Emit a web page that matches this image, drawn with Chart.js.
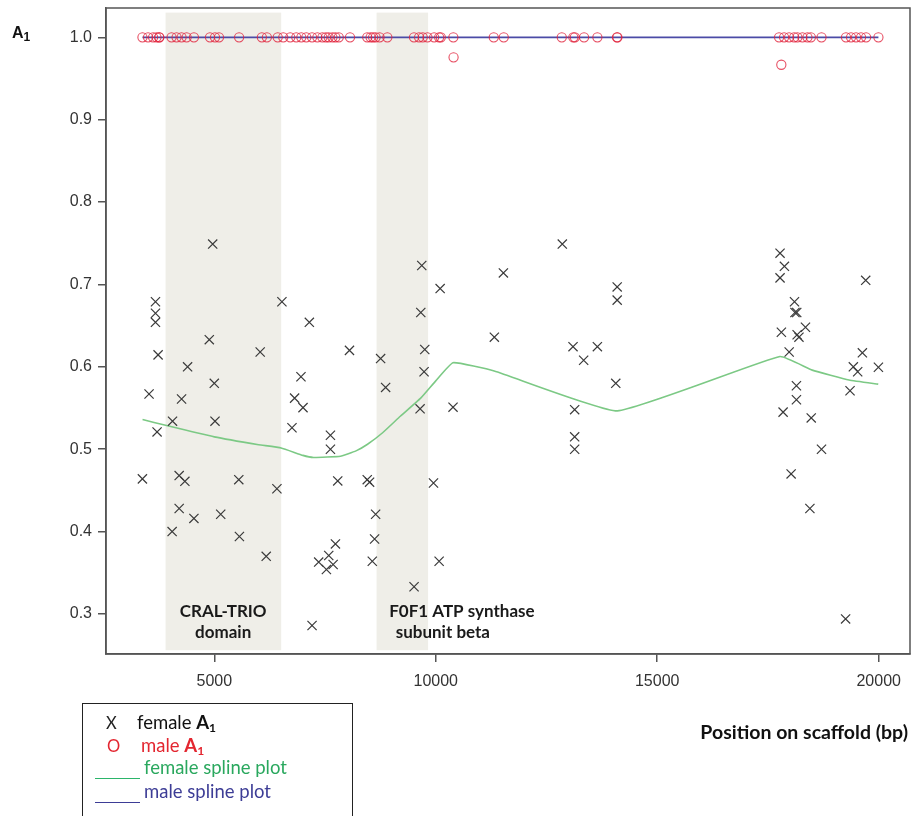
<!DOCTYPE html>
<html>
<head>
<meta charset="utf-8">
<script src="https://cdn.jsdelivr.net/npm/chart.js@4.4.1/dist/chart.umd.min.js"></script>
<style>
  html, body { margin: 0; padding: 0; background: #fff; }
  #wrap { position: relative; width: 912px; height: 816px; overflow: hidden; }
  canvas { position: absolute; left: 0; top: 0; }
  .ylab { position: absolute; left: 12px; top: 24px; font: bold 16px "Liberation Sans", Arial, sans-serif; color: #111; }
  .ylab sub, .lg sub { font-size: 12px; vertical-align: -3px; }
  .xtitle { position: absolute; right: 4px; top: 720px; font: bold 19.5px Lato, "Open Sans", sans-serif; color: #111; white-space: nowrap; }
  .legend { position: absolute; left: 82px; top: 703px; width: 271px; height: 130px; border: 1px solid #222; box-sizing: border-box; }
  .lg { position: absolute; font: 18.5px Lato, "Open Sans", sans-serif; white-space: nowrap; line-height: 20px; }
  .ln { position: absolute; height: 0; width: 45px; border-top: 1.5px solid; }
</style>
</head>
<body>
<div id="wrap">
  <canvas id="c" width="912" height="816"></canvas>
  <div class="ylab">A<sub>1</sub></div>
  <div class="xtitle">Position on scaffold (bp)</div>
  <div class="legend">
    <div class="lg" style="left:23px;top:9px;color:#222;font-size:16.5px;">X</div>
    <div class="lg" style="left:54px;top:8px;color:#111;">female <b>A<sub>1</sub></b></div>
    <div class="lg" style="left:24px;top:32px;color:#e32630;font-size:16.5px;">O</div>
    <div class="lg" style="left:58px;top:31px;color:#e32630;">male <b>A<sub>1</sub></b></div>
    <div class="ln" style="left:12px;top:74px;border-color:#2bb56a;"></div>
    <div class="lg" style="left:61px;top:53px;color:#2aa85e;">female spline plot</div>
    <div class="ln" style="left:12px;top:98px;border-color:#3d3d96;"></div>
    <div class="lg" style="left:61px;top:77px;color:#3d3d96;">male spline plot</div>
  </div>
</div>
<script>
// ---- data ----
const xTicks = [5000, 10000, 15000, 20000];
const yTicks = [0.3, 0.4, 0.5, 0.6, 0.7, 0.8, 0.9, 1.0];

const femaleX = [3377,3527,3672,3672,3672,3708,3731,4048,4057,4207,4207,4261,4336,4397,4540,4887,4964,5000,5016,5145,5553,5567,6036,6172,6414,6527,
  6754,6813,6957,7003,7146,7207,7357,7531,7584,7622,7622,7683,7735,7787,8052,
  8453,8506,8567,8619,8642,8755,8868,9510,9646,9662,9684,9736,9752,9949,10076,10099,10390,
  11323,11527,12857,13099,13136,13136,13136,13339,13649,14064,14096,14096,
  17773,17872,17773,17803,17842,17979,18023,18099,18110,18150,18143,18143,18159,18200,18347,18447,18477,18709,19253,19353,19428,19526,19632,19707,19994];
const femaleY = [0.464,0.567,0.679,0.665,0.654,0.521,0.6145,0.400,0.534,0.468,0.428,0.561,0.461,0.600,0.416,0.633,0.749,0.580,0.534,0.421,0.463,0.394,0.618,0.370,0.452,0.679,
  0.526,0.562,0.588,0.5505,0.654,0.286,0.363,0.354,0.371,0.517,0.500,0.360,0.385,0.4615,0.620,
  0.463,0.460,0.364,0.391,0.421,0.610,0.575,0.333,0.549,0.666,0.723,0.594,0.621,0.459,0.364,0.695,0.551,
  0.636,0.714,0.749,0.6245,0.548,0.515,0.500,0.608,0.6245,0.580,0.697,0.681,
  0.738,0.722,0.708,0.642,0.545,0.618,0.470,0.679,0.666,0.666,0.577,0.560,0.639,0.636,0.648,0.428,0.538,0.500,0.294,0.571,0.600,0.594,0.617,0.705,0.5995];

const maleX = [3378,3504,3618,3695,3754,3760,4035,4148,4261,4375,4540,4903,5016,5106,5560,6074,6187,6432,6557,6715,6851,6965,7078,7207,7327,7440,7520,7583,7667,7735,7810,
  8064,8453,8528,8585,8642,8732,8907,9509,9623,9706,9813,9963,10076,10114,10397,10402,11309,11535,
  12845,13106,13140,13348,13649,14091,14102,
  17751,17802,17864,17977,18091,18165,18279,18392,18469,18709,19262,19376,19489,19602,19716,19994];
const maleY = [1,1,1,1,1,1,1,1,1,1,1,1,1,1,1,1,1,1,1,1,1,1,1,1,1,1,1,1,1,1,1,
  1,1,1,1,1,1,1,1,1,1,1,1,1,1,1,0.9757,1,1,
  1,1,1,1,1,1,1,
  1,0.9667,1,1,1,1,1,1,1,1,1,1,1,1,1,1];

const femaleSplineX = [3380,3900,5000,6000,6510,7000,7240,7850,8200,8460,8800,9200,9660,10000,10390,11320,14100,17770,18500,19330,19990];
const femaleSplineY = [0.536,0.529,0.515,0.5055,0.5015,0.4925,0.490,0.4915,0.498,0.506,0.520,0.540,0.562,0.583,0.605,0.595,0.5465,0.6125,0.596,0.584,0.579];

const maleSplineX = [3378, 19994];
const maleSplineY = [1.0, 1.0];

const regionStart = [3900, 8664];
const regionEnd = [6510, 9827];
const regionLabels = [["CRAL-TRIO", "domain"], ["F0F1 ATP synthase", "subunit beta"]];
const regionLabelX = [[5200, 5200], [10590, 10160]];
const regionLabelY = [0.3029, 0.277];

const pts = (xs, ys) => xs.map((x, i) => ({ x: x, y: ys[i] }));

// ---- plugins ----
const shading = {
  id: 'shading',
  beforeDatasetsDraw(chart) {
    const { ctx, scales: { x, y } } = chart;
    ctx.save();
    ctx.fillStyle = '#efeee8';
    const top = y.getPixelForValue(1.030), bot = y.getPixelForValue(0.256);
    regionStart.forEach((s, i) => {
      const l = x.getPixelForValue(s), r = x.getPixelForValue(regionEnd[i]);
      ctx.fillRect(l, top, r - l, bot - top);
    });
    ctx.fillStyle = '#1a1a1a';
    ctx.font = 'bold 17px Lato, "Open Sans", sans-serif';
    ctx.textAlign = 'center';
    ctx.textBaseline = 'middle';
    regionLabels.forEach((lines, i) => {
      lines.forEach((t, j) => {
        ctx.fillText(t, x.getPixelForValue(regionLabelX[i][j]), y.getPixelForValue(regionLabelY[j]));
      });
    });
    ctx.restore();
  },
  afterDraw(chart) {
    const { ctx, chartArea: a } = chart;
    ctx.save();
    ctx.strokeStyle = '#555';
    ctx.lineWidth = 1.5;
    ctx.strokeRect(a.left, a.top, a.right - a.left, a.bottom - a.top);
    ctx.restore();
  }
};

new Chart(document.getElementById('c'), {
  type: 'scatter',
  data: {
    datasets: [
      { label: 'female A1', data: pts(femaleX, femaleY), pointStyle: 'crossRot', pointRadius: 6.5,
        borderColor: '#3a3a3a', backgroundColor: '#3a3a3a', borderWidth: 1.2, showLine: false, order: 1 },
      { label: 'male A1', data: pts(maleX, maleY), pointStyle: 'circle', pointRadius: 4.6,
        borderColor: 'rgba(225,35,60,0.8)', backgroundColor: 'rgba(0,0,0,0)', borderWidth: 1.1, showLine: false, order: 0 },
      { label: 'female spline plot', data: pts(femaleSplineX, femaleSplineY), showLine: true, pointRadius: 0,
        borderColor: '#7cc985', borderWidth: 1.6, tension: 0.12, order: 3 },
      { label: 'male spline plot', data: pts(maleSplineX, maleSplineY), showLine: true, pointRadius: 0,
        borderColor: '#4b4ba6', borderWidth: 1.6, order: 2 }
    ]
  },
  options: {
    responsive: false,
    animation: false,
    layout: { autoPadding: false, padding: { top: 8, right: 2, left: 0, bottom: 0 } },
    plugins: { legend: { display: false }, tooltip: { enabled: false } },
    scales: {
      x: {
        type: 'linear', min: 2555, max: 20707,
        afterBuildTicks(s) { s.ticks = xTicks.map(v => ({ value: v })); },
        afterFit(s) { s.height = 162; s.paddingLeft = 0; s.paddingRight = 0; },
        grid: { drawOnChartArea: false, drawTicks: true, tickLength: 8, color: '#555', lineWidth: 1.5 },
        border: { display: true, color: '#555', width: 1.5 },
        ticks: { color: '#333', padding: 10, font: { family: '"Liberation Sans", Arial, sans-serif', size: 16 }, callback: v => String(v), maxRotation: 0 }
      },
      y: {
        type: 'linear', min: 0.2514, max: 1.0356,
        afterBuildTicks(s) { s.ticks = yTicks.map(v => ({ value: v })); },
        afterFit(s) { s.width = 106; s.paddingTop = 0; s.paddingBottom = 0; },
        grid: { drawOnChartArea: false, drawTicks: true, tickLength: 8, color: '#555', lineWidth: 1.5 },
        border: { display: true, color: '#555', width: 1.5 },
        ticks: { color: '#333', padding: 6, font: { family: '"Liberation Sans", Arial, sans-serif', size: 16 }, callback: v => v.toFixed(1) }
      }
    }
  },
  plugins: [shading]
});
</script>
</body>
</html>
